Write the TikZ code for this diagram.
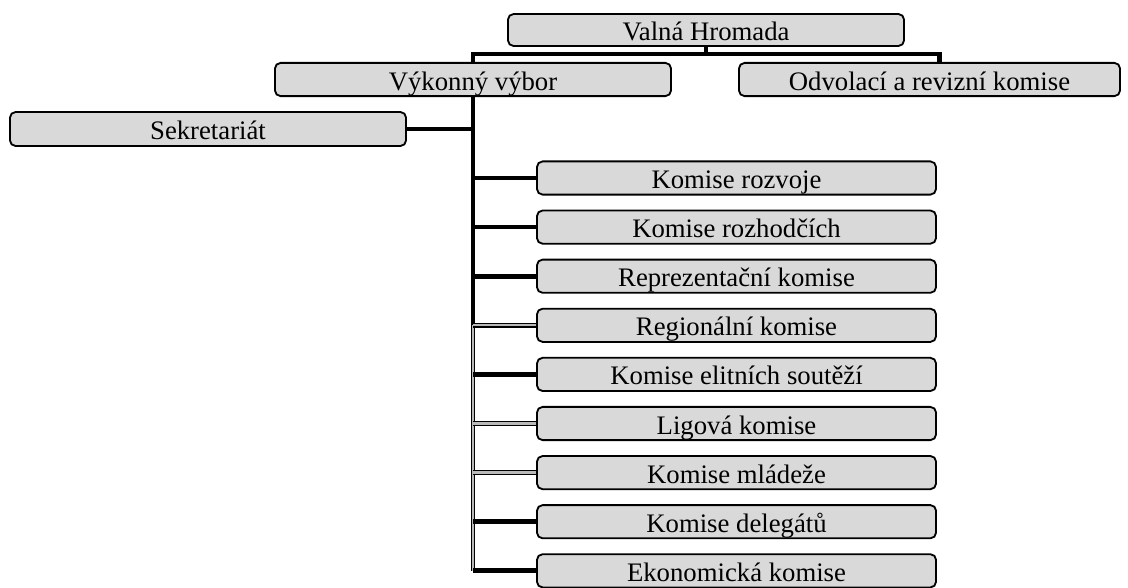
\documentclass[tikz,border=0pt]{standalone}
\usepackage{fontspec}
\setmainfont{Liberation Serif}
\definecolor{boxgray}{HTML}{D9D9D9}
\begin{document}
\begin{tikzpicture}[x=0.025cm,y=-0.025cm,
        unit node/.style={rectangle,rounded corners=4pt,draw,line width=1.3pt,fill=boxgray,
            minimum height=0.83cm,inner sep=0pt,text height=15pt,text depth=0pt,
            font=\fontsize{19}{22}\selectfont},
        wide node/.style={unit node,minimum width=9.9cm},
        komise node/.style={unit node,minimum width=9.975cm},
        link/.style={line width=3.4pt},
        faint link/.style={line width=0.9pt,double=gray!55,double distance=1.6pt}]
        \useasboundingbox (0,0) rectangle (1128,587);

        \node[wide node,minimum height=0.8cm] at (706,30) (val) {Valná Hromada};
        \node[wide node] at (473,79.5) (vyk) {Výkonný výbor};
        \node[unit node,minimum width=9.525cm] at (929.5,79.5) (odv) {Odvolací a revizní komise};
        \node[wide node,minimum height=0.85cm] at (208,129) (sek) {Sekretariát};

        \node[komise node] at (736.5,178) (k1) {Komise rozvoje};
        \node[komise node] at (736.5,227.1) (k2) {Komise rozhodčích};
        \node[komise node] at (736.5,276.2) (k3) {Reprezentační komise};
        \node[komise node] at (736.5,325.3) (k4) {Regionální komise};
        \node[komise node] at (736.5,374.4) (k5) {Komise elitních soutěží};
        \node[komise node] at (736.5,423.5) (k6) {Ligová komise};
        \node[komise node] at (736.5,472.6) (k7) {Komise mládeže};
        \node[komise node] at (736.5,521.7) (k8) {Komise delegátů};
        \node[komise node] at (736.5,570.8) (k9) {Ekonomická komise};

        % top level
        \draw[link] (val.south) -- ++(0,7) coordinate (bus);
        \draw[link] (vyk.north) |- (bus) -| ([xshift=0.25cm]odv.north);

        % trunk of the executive committee
        \draw[link] (vyk.south) -- (vyk.south |- k4.west);
        \draw[faint link] (vyk.south |- k4.west) -- (vyk.south |- k9.west);
        \draw[link] (sek.east) -- (sek.east -| vyk.south);
        \foreach \k in {k1,k2,k3,k5,k8,k9}
            \draw[link] (\k.west) -- (\k.west -| vyk.south);
        \foreach \k in {k4,k6,k7}
            \draw[faint link] (\k.west) -- (\k.west -| vyk.south);
    \end{tikzpicture}
\end{document}
